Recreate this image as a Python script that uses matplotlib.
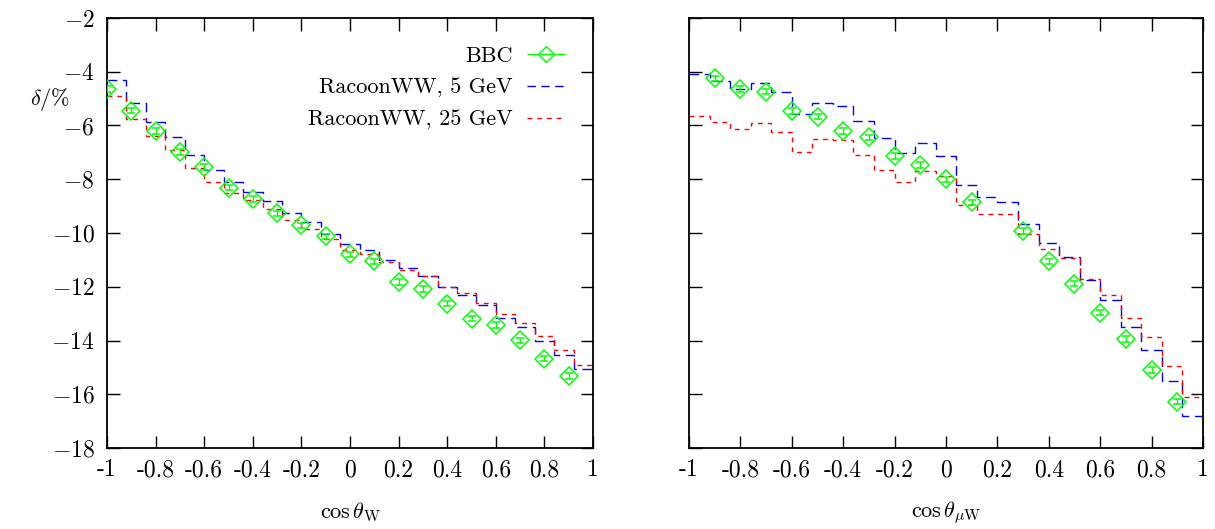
"""
Two-panel comparison of relative corrections delta/% vs. cos(theta):
BBC points with error bars against RacoonWW histograms (5 GeV, 25 GeV).
"""

import matplotlib
matplotlib.use("Agg")
import matplotlib.pyplot as plt
from matplotlib.container import ErrorbarContainer
from matplotlib.legend_handler import HandlerErrorbar

plt.rcParams["font.family"] = ["cmr10", "DejaVu Serif"]
plt.rcParams["mathtext.fontset"] = "cm"
plt.rcParams["axes.unicode_minus"] = False

# --- Data ---
BIN_EDGES = [-1.0, -0.92, -0.84, -0.76, -0.68, -0.60, -0.52, -0.44, -0.36,
             -0.28, -0.20, -0.12, -0.04, 0.04, 0.12, 0.20, 0.28, 0.36, 0.44,
             0.52, 0.60, 0.68, 0.76, 0.84, 0.92, 1.0]

# left panel: cos theta_W
bbc_x_left = [-1.0, -0.9, -0.8, -0.7, -0.6, -0.5, -0.4, -0.3, -0.2, -0.1,
              0.0, 0.1, 0.2, 0.3, 0.4, 0.5, 0.6, 0.7, 0.8, 0.9]
bbc_y_left = [-4.64, -5.45, -6.20, -6.98, -7.54, -8.31, -8.74, -9.27, -9.71, -10.12,
              -10.79, -11.05, -11.82, -12.09, -12.63, -13.19, -13.43, -13.99, -14.67, -15.32]
bbc_err_left = [0.10, 0.10, 0.10, 0.10, 0.10, 0.10, 0.10, 0.10, 0.10, 0.10,
                0.10, 0.10, 0.10, 0.10, 0.10, 0.10, 0.10, 0.10, 0.10, 0.10]
racoon5_left = [-4.31, -5.15, -5.86, -6.42, -7.10, -7.66, -8.10, -8.47, -8.80, -9.27,
                -9.59, -10.02, -10.42, -10.64, -10.99, -11.32, -11.61, -12.01, -12.29,
                -12.67, -13.16, -13.50, -14.02, -14.55, -15.07]
racoon25_left = [-4.90, -5.74, -6.40, -6.92, -7.60, -8.10, -8.50, -8.78, -9.09, -9.52,
                 -9.84, -10.21, -10.62, -10.77, -11.07, -11.36, -11.61, -12.01, -12.25,
                 -12.60, -13.00, -13.34, -13.84, -14.36, -14.90]

# right panel: cos theta_muW
bbc_x_right = [-0.9, -0.8, -0.7, -0.6, -0.5, -0.4, -0.3, -0.2, -0.1, 0.0,
               0.1, 0.3, 0.4, 0.5, 0.6, 0.7, 0.8, 0.9]
bbc_y_right = [-4.25, -4.64, -4.74, -5.46, -5.67, -6.20, -6.44, -7.13, -7.47, -8.00,
               -8.86, -9.92, -11.05, -11.89, -12.96, -13.94, -15.10, -16.28]
bbc_err_right = [0.10, 0.10, 0.10, 0.10, 0.10, 0.10, 0.10, 0.10, 0.10, 0.10,
                 0.10, 0.10, 0.10, 0.10, 0.10, 0.10, 0.10, 0.10]
racoon5_right = [-4.09, -4.35, -4.66, -4.43, -4.77, -5.58, -5.18, -5.28, -5.84, -6.48,
                 -7.02, -6.67, -7.14, -8.20, -8.65, -8.84, -9.68, -10.37, -10.89,
                 -11.76, -12.50, -13.50, -14.34, -15.51, -16.80]
racoon25_right = [-5.64, -5.86, -6.13, -5.90, -6.23, -7.00, -6.51, -6.54, -7.08, -7.66,
                  -8.11, -7.69, -7.88, -8.96, -9.30, -9.30, -10.02, -10.60, -10.93,
                  -11.73, -12.32, -13.16, -13.87, -14.95, -16.10]

X_TICKS = [-1, -0.8, -0.6, -0.4, -0.2, 0, 0.2, 0.4, 0.6, 0.8, 1]
X_TICK_LABELS = ["-1", "-0.8", "-0.6", "-0.4", "-0.2", "0", "0.2", "0.4", "0.6", "0.8", "1"]
Y_TICKS = [-18, -16, -14, -12, -10, -8, -6, -4, -2]
Y_TICK_LABELS = [f"${v}$" for v in Y_TICKS]

GREEN = "#00ff00"
BLUE = "#0000ff"
RED = "#ff0000"
FS = 16
TICK_FS = 17


def draw_panel(ax, bx, by, berr, r5, r25, xlabel, show_ylabels):
    ax.stairs(r5, BIN_EDGES, baseline=None, color=BLUE, linewidth=1.0,
              linestyle=(0, (7, 4)), zorder=2)
    ax.stairs(r25, BIN_EDGES, baseline=None, color=RED, linewidth=1.0,
              linestyle=(0, (3.5, 3.5)), zorder=2)
    ax.errorbar(bx, by, yerr=berr, fmt="D", color=GREEN, mfc="none", mec=GREEN,
                ms=8.8, mew=1.1, elinewidth=1.0, capsize=3, capthick=1.0, zorder=3)

    ax.set_xlim(-1, 1)
    ax.set_ylim(-18, -2)
    ax.set_xticks(X_TICKS)
    ax.set_xticklabels(X_TICK_LABELS)
    ax.set_yticks(Y_TICKS)
    if show_ylabels:
        ax.set_yticklabels(Y_TICK_LABELS)
    else:
        ax.set_yticklabels([])
    ax.tick_params(direction="in", top=True, right=True, length=9, width=1.0,
                   labelsize=TICK_FS)
    ax.tick_params(axis="x", pad=8)
    ax.tick_params(axis="y", pad=9)
    for sp in ax.spines.values():
        sp.set_linewidth(1.3)
    ax.set_xlabel(xlabel, fontsize=FS, va="center")
    ax.xaxis.set_label_coords(0.5, -0.15)


fig = plt.figure(figsize=(12.15, 5.29), dpi=100)
ax1 = fig.add_axes([0.0881, 0.1531, 0.4, 0.8129])
ax2 = fig.add_axes([0.5671, 0.1531, 0.423, 0.8129])

draw_panel(ax1, bbc_x_left, bbc_y_left, bbc_err_left, racoon5_left, racoon25_left,
           r"$\cos\theta_{\mathrm{W}}$", True)
draw_panel(ax2, bbc_x_right, bbc_y_right, bbc_err_right, racoon5_right, racoon25_right,
           r"$\cos\theta_{\mu\mathrm{W}}$", False)

ax1.set_ylabel(r"$\delta/\%$", fontsize=FS, rotation=0, va="center", ha="center")
ax1.yaxis.set_label_coords(-0.117, 0.81)

# legend (gnuplot style: label right-aligned, sample on the right)
leg_bbc = ax1.errorbar([], [], xerr=[], fmt="D", color=GREEN, mfc="none", mec=GREEN,
                       ms=8, mew=1.0, elinewidth=1.0, capsize=6, capthick=1.0)
leg_r5, = ax1.plot([], [], color=BLUE, linewidth=1.0, linestyle=(0, (6, 4)))
leg_r25, = ax1.plot([], [], color=RED, linewidth=1.0, linestyle=(0, (3.5, 3.5)))
ax1.legend([leg_bbc, leg_r5, leg_r25],
           ["BBC", "RacoonWW, 5 GeV", "RacoonWW, 25 GeV"],
           handler_map={ErrorbarContainer: HandlerErrorbar(xerr_size=0.85)},
           loc="upper right", bbox_to_anchor=(0.96, 0.955), borderaxespad=0,
           frameon=False, markerfirst=False, numpoints=1, fontsize=FS,
           handlelength=1.7, handletextpad=0.65, labelspacing=0.55)

fig.savefig("out.png", dpi=100)
